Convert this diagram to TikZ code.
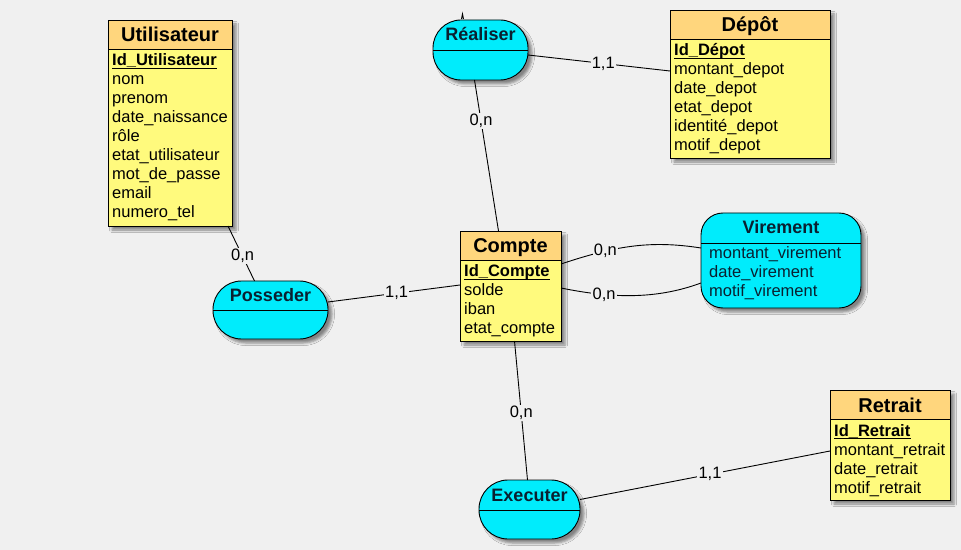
\documentclass[tikz,border=0pt]{standalone}
\usepackage{fontspec}
\setmainfont{Liberation Sans}
\usetikzlibrary{calc,shadows.blur}

\definecolor{bgcol}{RGB}{240,240,240}
\definecolor{bodycol}{RGB}{255,250,125}
\definecolor{headcol}{RGB}{255,214,125}
\definecolor{assoccol}{RGB}{0,236,252}
\definecolor{asstext}{RGB}{10,32,48}

\tikzset{
  frame/.style={draw=black, line width=0.9bp},
  link/.style={draw=black, line width=0.9bp},
  myshadow/.style={blur shadow={shadow xshift=4bp, shadow yshift=-4bp,
      shadow blur radius=2.5bp, shadow opacity=45}},
  entbody/.style={rectangle, fill=bodycol, myshadow, inner sep=0pt, outer sep=0pt},
  assocbody/.style={rectangle, fill=assoccol, frame, myshadow, inner sep=0pt, outer sep=0pt},
  attr/.style={font=\fontsize{16.5bp}{19bp}\selectfont, inner sep=0pt},
  assattr/.style={attr, text=asstext},
  enttitle/.style={font=\fontsize{20bp}{24bp}\selectfont\bfseries, inner sep=0pt},
  asstitle/.style={font=\fontsize{18bp}{22bp}\selectfont\bfseries, text=asstext, inner sep=0pt},
  card/.style={font=\fontsize{16.5bp}{19bp}\selectfont, fill=bgcol, inner sep=1.2bp},
  idline/.style={draw=black, line width=1.4bp}
}

% entity: name, x, y, width, height, title, identifier, other attributes
\newcommand\entite[8]{%
  \node[entbody, minimum width=#4bp, minimum height=#5bp, anchor=north west] (#1) at (#2,#3) {};
  \fill[headcol] (#1.north west) rectangle ($(#1.north east)+(0,29)$);
  \draw[frame] ($(#1.north west)+(0,29)$) -- ($(#1.north east)+(0,29)$);
  \draw[frame] (#1.north west) rectangle (#1.south east);
  \node[enttitle, anchor=base] (#1-t) at ($(#1.north)+(0,22)$) {#6};
  \node[attr, anchor=base west] (#1-id) at ($(#1.north west)+(4,46)$) {\textbf{#7}};
  \draw[idline] ($(#1-id.base west)+(0,2.6)$) -- ($(#1-id.base east)+(0,2.6)$);
  \foreach \a [count=\i] in {#8}
    \node[attr, anchor=base west] at ($(#1.north west)+(4,46+19*\i)$) {\a};
}

% association: name, x, y, width, height, separator offset, corner radius, title
\newcommand\assoc[8]{%
  \node[assocbody, rounded corners=#7bp, minimum width=#4bp, minimum height=#5bp, anchor=north west] (#1) at (#2,#3) {};
  \draw[frame] ($(#1.north west)+(0,#6)$) -- ($(#1.north east)+(0,#6)$);
  \node[asstitle, anchor=base] (#1-t) at ($(#1.north)+(0,21)$) {#8};
}

\begin{document}
\begin{tikzpicture}[x=1bp, y=-1bp]
  \useasboundingbox (0,0) rectangle (961,550);
  \fill[bgcol] (0,0) rectangle (961,550);

  % entities
  \entite{util}{108}{20}{124}{206}{Utilisateur}{Id\_Utilisateur}%
    {nom,prenom,date\_naissance,rôle,etat\_utilisateur,mot\_de\_passe,email,numero\_tel}
  \entite{depot}{670}{10}{160}{148}{Dépôt}{Id\_Dépot}%
    {montant\_depot,date\_depot,etat\_depot,identité\_depot,motif\_depot}
  \entite{compte}{460}{231}{101}{110}{Compte}{Id\_Compte}%
    {solde,iban,etat\_compte}
  \entite{retrait}{830}{390}{120}{110}{Retrait}{Id\_Retrait}%
    {montant\_retrait,date\_retrait,motif\_retrait}

  % associations
  \assoc{real}{433}{20}{95}{60}{30}{28}{Réaliser}
  \assoc{poss}{213}{281}{115}{58}{29}{28.5}{Posseder}
  \assoc{exec}{479}{480}{101}{59}{30}{29}{Executer}
  \assoc{vir}{701}{213}{160}{95}{30}{22}{Virement}
  \foreach \a [count=\i from 0] in {montant\_virement,date\_virement,motif\_virement}
    \node[assattr, anchor=base west] at ($(vir.north west)+(8,46+19*\i)$) {\a};

  % small stub above Réaliser
  \draw[link] ($(real.north)+(-19,-1)$) -- ($(real.north)+(-18,-6)$) -- ($(real.north)+(-17,-1)$);

  % links with cardinalities
  \draw[link] ($(util.south)+(58,0)$) -- node[card, pos=0.55] {0,n} ($(poss.north)+(-16,0)$);
  \draw[link] ($(poss.east)+(0,-8)$) -- node[card, pos=0.52] {1,1} ($(compte.west)+(0,-1)$);
  \draw[link] ($(real.south)+(-6,0)$) -- node[card, pos=0.27] {0,n} ($(compte.north)+(-12,0)$);
  \draw[link] ($(real.east)+(0,5)$) -- node[card, pos=0.53] {1,1} ($(depot.west)+(0,-13)$);
  \draw[link] ($(compte.east)+(0,-22)$)
      .. controls ($(compte.east)+(54,-40)$) and ($(vir.west)+(-51,-20.5)$)
      .. node[card, pos=0.3] {0,n} ($(vir.west)+(0,-12.5)$);
  \draw[link] ($(compte.east)+(0,2)$)
      .. controls ($(compte.east)+(49,12)$) and ($(vir.west)+(-46,39.5)$)
      .. node[card, pos=0.3] {0,n} ($(vir.west)+(0,22.5)$);
  \draw[link] ($(compte.south)+(4,0)$) -- node[card, pos=0.52] {0,n} ($(exec.north)+(-2,0)$);
  \draw[link] ($(exec.east)+(0,-10)$) -- node[card, pos=0.52] {1,1} ($(retrait.west)+(0,6)$);
\end{tikzpicture}
\end{document}
